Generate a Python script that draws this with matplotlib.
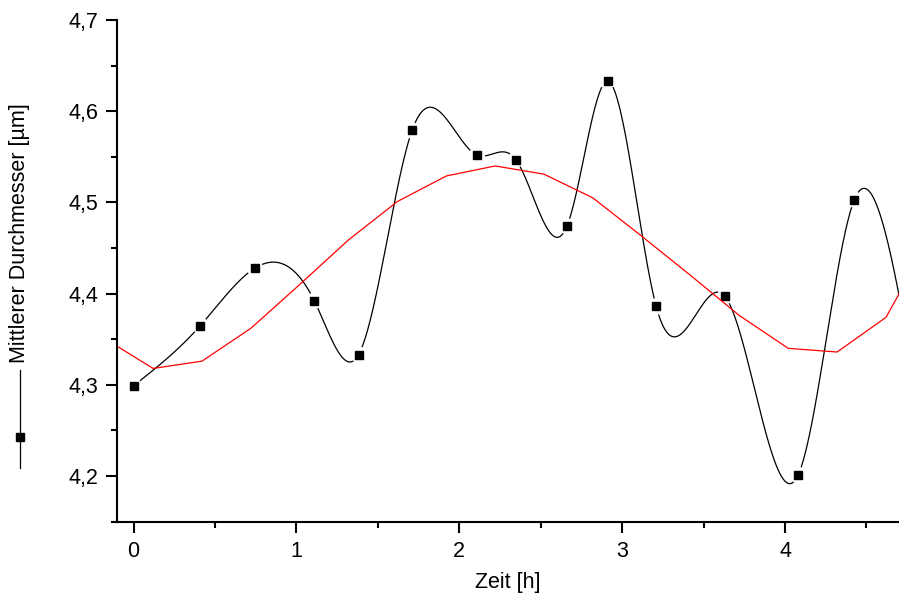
import matplotlib
matplotlib.use("Agg")
import matplotlib.pyplot as plt
from matplotlib.lines import Line2D
from matplotlib.ticker import MultipleLocator, FuncFormatter
import numpy as np

plt.rcParams['font.family'] = ['Liberation Sans', 'DejaVu Sans']

# Messpunkte (Zeit in h, mittlerer Durchmesser in um)
zeit = [0.0, 0.41, 0.745, 1.11, 1.381, 1.71, 2.108, 2.347, 2.661, 2.911,
        3.209, 3.631, 4.08, 4.426]
durchmesser = [4.299, 4.365, 4.428, 4.392, 4.333, 4.579, 4.552, 4.547, 4.474, 4.633,
               4.386, 4.397, 4.201, 4.503]
# letzter Messpunkt liegt ausserhalb des sichtbaren Bereichs
zeit_extra = [4.79]
durchmesser_extra = [4.31]

# geglaettete Kurve (rot)
zeit_glatt = [-0.18, 0.12, 0.42, 0.72, 1.02, 1.32, 1.62, 1.92, 2.22, 2.52,
              2.82, 3.12, 3.42, 3.72, 4.02, 4.32, 4.62, 4.92]
durchmesser_glatt = [4.351, 4.318, 4.326, 4.362, 4.410, 4.459, 4.501, 4.529, 4.540, 4.531,
                     4.505, 4.463, 4.420, 4.376, 4.340, 4.336, 4.374, 4.470]


def natural_spline(x, y, xs):
    x = np.asarray(x, float)
    y = np.asarray(y, float)
    n = len(x)
    h = np.diff(x)
    A = np.zeros((n, n))
    b = np.zeros(n)
    A[0, 0] = 1
    A[-1, -1] = 1
    for i in range(1, n - 1):
        A[i, i - 1] = h[i - 1]
        A[i, i] = 2 * (h[i - 1] + h[i])
        A[i, i + 1] = h[i]
        b[i] = 3 * ((y[i + 1] - y[i]) / h[i] - (y[i] - y[i - 1]) / h[i - 1])
    c = np.linalg.solve(A, b)
    bb = (y[1:] - y[:-1]) / h - h * (2 * c[:-1] + c[1:]) / 3
    d = (c[1:] - c[:-1]) / (3 * h)
    idx = np.clip(np.searchsorted(x, xs) - 1, 0, n - 2)
    t = xs - x[idx]
    return y[idx] + bb[idx] * t + c[idx] * t**2 + d[idx] * t**3


fig = plt.figure(figsize=(8.99, 6.01), dpi=100)
ax = fig.add_axes([0.1305, 0.132, 0.8695, 0.8347])
ax.set_xlim(-0.1, 4.7)
ax.set_ylim(4.15, 4.7)

x_all = zeit + zeit_extra
y_all = durchmesser + durchmesser_extra
xs = np.linspace(x_all[0], x_all[-1], 3000)
ys = natural_spline(x_all, y_all, xs)

# Luecken um die Symbole wie in Origin
pix = ax.transData.transform(np.column_stack([xs, ys]))
pts = ax.transData.transform(np.column_stack([zeit, durchmesser]))
dist = np.min(np.hypot(pix[:, None, 0] - pts[None, :, 0], pix[:, None, 1] - pts[None, :, 1]), axis=1)
ys_gap = np.where(dist < 8.5, np.nan, ys)

ax.plot(xs, ys_gap, color='black', lw=0.9)
ax.plot(zeit, durchmesser, ls='none', marker='s', ms=5.5, color='black')
ax.plot(zeit_glatt, durchmesser_glatt, color='#ff0000', lw=0.9)

for s in ['top', 'right']:
    ax.spines[s].set_visible(False)
for s in ['left', 'bottom']:
    ax.spines[s].set_linewidth(1.5)

ax.xaxis.set_major_locator(MultipleLocator(1))
ax.xaxis.set_minor_locator(MultipleLocator(0.5))
ax.yaxis.set_major_locator(MultipleLocator(0.1))
ax.yaxis.set_minor_locator(MultipleLocator(0.05))
ax.yaxis.set_major_formatter(FuncFormatter(lambda v, p: f"{v:.1f}".replace('.', ',')))
ax.tick_params(which='major', direction='out', length=8, width=1.5, labelsize=15.5, pad=6)
ax.tick_params(which='minor', direction='out', length=4, width=1.5)

ax.set_xlabel("Zeit [h]", fontsize=15.5, labelpad=7)

# y-Beschriftung mit Legendensymbol
fig.text(0.022, 0.612, "Mittlerer Durchmesser [\u00b5m]", rotation=90, fontsize=15.5,
         ha='center', va='center')
fig.add_artist(Line2D([0.022, 0.022], [1 - 370 / 601, 1 - 468 / 601], color='black', lw=0.9,
                      transform=fig.transFigure))
fig.add_artist(Line2D([0.022], [1 - 437 / 601], marker='s', ms=5.5, color='black', ls='none',
                      transform=fig.transFigure))

fig.savefig("out.png", dpi=100)
